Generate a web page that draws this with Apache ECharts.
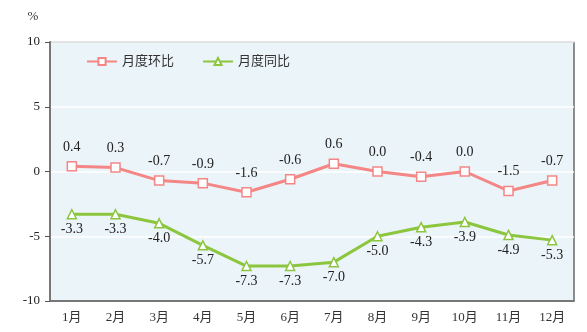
<!DOCTYPE html>
<html>
<head>
<meta charset="utf-8">
<script src="https://cdn.jsdelivr.net/npm/echarts@6/dist/echarts.min.js"></script>
<style>
  html, body { margin: 0; padding: 0; background: #fff; }
  #chart { width: 587px; height: 332px; }
</style>
</head>
<body>
<div id="chart"></div>
<script>
// Monthly change, percent
const months = ['1月', '2月', '3月', '4月', '5月', '6月', '7月', '8月', '9月', '10月', '11月', '12月'];
const momValues = [0.4, 0.3, -0.7, -0.9, -1.6, -0.6, 0.6, 0.0, -0.4, 0.0, -1.5, -0.7];
const yoyValues = [-3.3, -3.3, -4.0, -5.7, -7.3, -7.3, -7.0, -5.0, -4.3, -3.9, -4.9, -5.3];
const momName = '月度环比';
const yoyName = '月度同比';

const FONT = '"Liberation Serif", "Noto Sans CJK SC", serif';
const RED = '#F48686';
const GREEN = '#8CC63F';

const chart = echarts.init(document.getElementById('chart'), null, { renderer: 'canvas' });

const fmt = p => p.value.toFixed(1);

chart.setOption({
  animation: false,
  grid: {
    left: 50, right: 13, top: 42, bottom: 31,
    show: true,
    backgroundColor: '#EBF4F8',
    borderColor: '#222',
    borderWidth: 1
  },
  legend: {
    left: 81, top: 50,
    itemWidth: 30, itemHeight: 9, itemGap: 28,
    textStyle: { fontFamily: FONT, fontSize: 13, color: '#333' },
    data: [momName, yoyName]
  },
  xAxis: {
    type: 'category',
    data: months,
    boundaryGap: true,
    axisLine: { show: true, onZero: false, lineStyle: { color: '#777', width: 2 } },
    axisTick: { show: false },
    axisLabel: { fontFamily: FONT, fontSize: 13, color: '#333', margin: 10 },
    splitLine: { show: false }
  },
  yAxis: {
    type: 'value',
    min: -10, max: 10, interval: 5,
    name: '%',
    nameLocation: 'end',
    nameGap: 19,
    nameTextStyle: { fontFamily: FONT, fontSize: 13, color: '#333', padding: [0, 34, 0, 0] },
    axisLine: { show: true, lineStyle: { color: '#777', width: 2 } },
    axisTick: { show: true, length: 5, lineStyle: { color: '#555', width: 1 } },
    axisLabel: { fontFamily: FONT, fontSize: 13, color: '#222', margin: 10 },
    splitLine: { show: true, lineStyle: { color: '#fff', width: 1.5 } }
  },
  series: [
    {
      name: momName,
      type: 'line',
      data: momValues,
      symbol: 'rect',
      symbolSize: 9,
      lineStyle: { color: RED, width: 3 },
      itemStyle: { color: '#fff', borderColor: RED, borderWidth: 1.5 },
      label: {
        show: true, position: 'top', distance: 7,
        formatter: fmt,
        fontFamily: FONT, fontSize: 14, color: '#222'
      },
      z: 3
    },
    {
      name: yoyName,
      type: 'line',
      data: yoyValues,
      symbol: 'triangle',
      symbolSize: 9,
      lineStyle: { color: GREEN, width: 3 },
      itemStyle: { color: '#fff', borderColor: GREEN, borderWidth: 1.5 },
      label: {
        show: true, position: 'bottom', distance: 3,
        formatter: fmt,
        fontFamily: FONT, fontSize: 14, color: '#222'
      },
      z: 3
    }
  ]
});
</script>
</body>
</html>
